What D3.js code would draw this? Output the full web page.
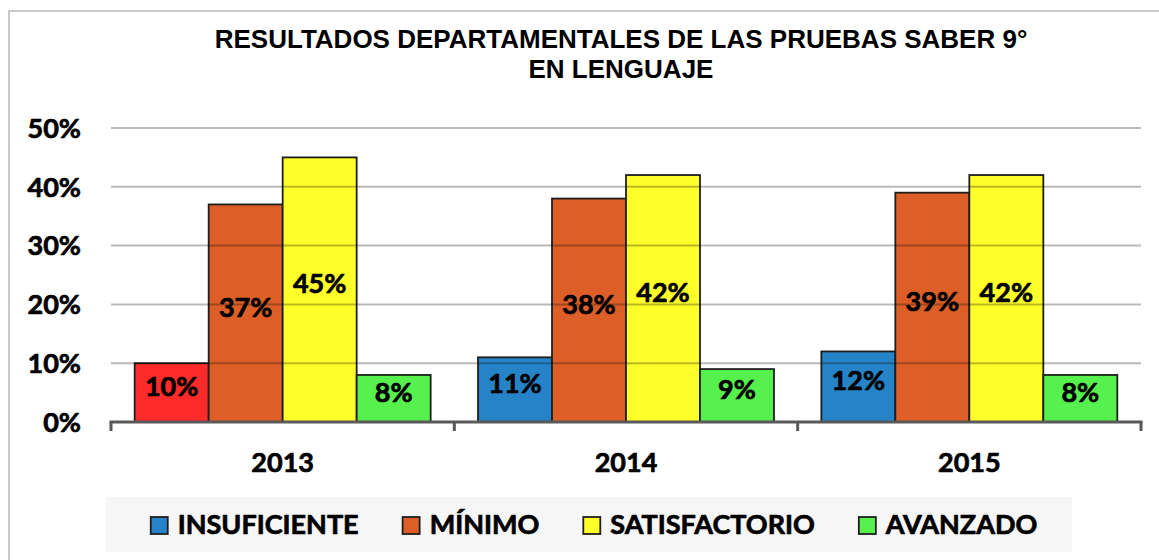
<!DOCTYPE html>
<html><head><meta charset="utf-8">
<script src="https://cdn.jsdelivr.net/npm/d3@7"></script>
<style>html,body{margin:0;padding:0;background:#fff;} svg{display:block;}</style>
</head><body>
<svg id="chart" width="1159" height="560"></svg>
<script>
// ---- data ----
const years = ["2013", "2014", "2015"];
const seriesNames = ["INSUFICIENTE", "MÍNIMO", "SATISFACTORIO", "AVANZADO"];
const insuficiente = [0.10, 0.11, 0.12];
const minimo = [0.37, 0.38, 0.39];
const satisfactorio = [0.45, 0.42, 0.42];
const avanzado = [0.08, 0.09, 0.08];
const yTicks = [0, 0.1, 0.2, 0.3, 0.4, 0.5];
const titleLines = ["RESULTADOS DEPARTAMENTALES DE LAS PRUEBAS SABER 9°", "EN LENGUAJE"];

// ---- style ----
const seriesColors = ["#2683c7", "#dd5f27", "#ffff2a", "#56f14c"];
const pointColorOverrides = [{ year: "2013", series: "INSUFICIENTE", color: "#ff2a2a" }];
const labelFont = "Lato, 'Open Sans', sans-serif";

const seriesValues = [insuficiente, minimo, satisfactorio, avanzado];
const rows = [];
years.forEach((yr, i) => seriesNames.forEach((s, j) => {
  const ov = pointColorOverrides.find(o => o.year === yr && o.series === s);
  rows.push({ year: yr, series: s, value: seriesValues[j][i], color: ov ? ov.color : seriesColors[j] });
}));

const svg = d3.select("#chart");
const W = 1159, H = 560;
const plot = { left: 111, right: 1141, top: 128, bottom: 422 };

function boldText(sel, size) {
  return sel.attr("font-family", labelFont).attr("font-weight", 700).attr("font-size", size)
    .attr("fill", "#000").attr("stroke", "#000").attr("stroke-width", 0.7).attr("stroke-linejoin", "round");
}

// outer border
svg.append("rect").attr("x", 9).attr("y", 11).attr("width", W + 20).attr("height", H + 20)
  .attr("fill", "#fff").attr("stroke", "#c9c9c9").attr("stroke-width", 2);

// title
const title = svg.append("text").attr("text-anchor", "middle")
  .attr("font-family", "'Liberation Sans', Arial, sans-serif").attr("font-weight", "bold")
  .attr("font-size", 26).attr("fill", "#000");
titleLines.forEach((t, i) => title.append("tspan").attr("x", 621).attr("y", 48 + i * 30).text(t));

const x0 = d3.scaleBand().domain(years).range([plot.left, plot.right]).padding(0);
const x1 = d3.scaleBand().domain(seriesNames).range([0, x0.bandwidth()]).paddingInner(0).paddingOuter(0.32);
const y = d3.scaleLinear().domain([0, 0.5]).range([plot.bottom, plot.top]);

// y labels
svg.append("g").selectAll("text").data(yTicks).join("text")
  .attr("x", 81).attr("y", d => y(d)).attr("dy", "0.36em").attr("text-anchor", "end")
  .call(boldText, 27)
  .text(d3.format(".0%"));

// bars
svg.append("g").selectAll("rect").data(rows).join("rect")
  .attr("x", d => x0(d.year) + x1(d.series))
  .attr("y", d => y(d.value))
  .attr("width", x1.bandwidth())
  .attr("height", d => y(0) - y(d.value))
  .attr("fill", d => d.color).attr("stroke", "#1e1e1e").attr("stroke-width", 1.8);

// gridlines (drawn over bars, translucent)
svg.append("g").selectAll("line").data(yTicks.filter(d => d > 0)).join("line")
  .attr("x1", plot.left).attr("x2", plot.right).attr("y1", d => y(d)).attr("y2", d => y(d))
  .attr("stroke", "#000").attr("stroke-opacity", 0.27).attr("stroke-width", 2);

// x axis
const xAxis = d3.axisBottom(x0).tickSize(0).tickFormat("");
const gx = svg.append("g").attr("transform", `translate(0,${y(0)})`).call(xAxis);
gx.select(".domain").remove();
gx.append("line").attr("x1", plot.left - 1.5).attr("x2", plot.right + 1.5).attr("y1", 0).attr("y2", 0)
  .attr("stroke", "#595959").attr("stroke-width", 3);
const bounds = years.map(yr => x0(yr)).concat([x0(years[years.length - 1]) + x0.bandwidth()]);
gx.selectAll(".bound").data(bounds).join("line").attr("class", "bound")
  .attr("x1", d => d).attr("x2", d => d).attr("y1", 0).attr("y2", 9)
  .attr("stroke", "#595959").attr("stroke-width", 3);
gx.selectAll(".yr").data(years).join("text").attr("class", "yr")
  .attr("x", d => x0(d) + x0.bandwidth() / 2).attr("y", 50).attr("text-anchor", "middle")
  .call(boldText, 27)
  .text(d => d);

// data labels
svg.append("g").selectAll("text").data(rows).join("text")
  .attr("x", d => x0(d.year) + x1(d.series) + x1.bandwidth() / 2)
  .attr("y", d => (y(d.value) + y(0)) / 2 - 6).attr("dy", "0.36em")
  .attr("text-anchor", "middle")
  .call(boldText, 27)
  .text(d => d3.format(".0%")(d.value));

// legend
svg.append("rect").attr("x", 106).attr("y", 497).attr("width", 966).attr("height", 55).attr("fill", "#f6f6f6");
const lg = svg.append("g");
const items = lg.selectAll("g").data(seriesNames).join("g");
items.append("rect").attr("width", 17).attr("height", 17).attr("y", 517)
  .attr("fill", (d, i) => seriesColors[i]).attr("stroke", "#1e1e1e").attr("stroke-width", 1.8);
const ltxt = items.append("text").attr("y", 534)
  .call(boldText, 27)
  .text(d => d);
const widths = [];
ltxt.each(function () { widths.push(this.getComputedTextLength()); });
const sw = 18, gapIn = 9, gapOut = 44;
const total = d3.sum(widths) + seriesNames.length * (sw + gapIn) + (seriesNames.length - 1) * gapOut;
let cx = 594 - total / 2;
items.each(function (d, i) {
  const g = d3.select(this);
  g.select("rect").attr("x", cx);
  g.select("text").attr("x", cx + sw + gapIn);
  cx += sw + gapIn + widths[i] + gapOut;
});
</script>
</body></html>
